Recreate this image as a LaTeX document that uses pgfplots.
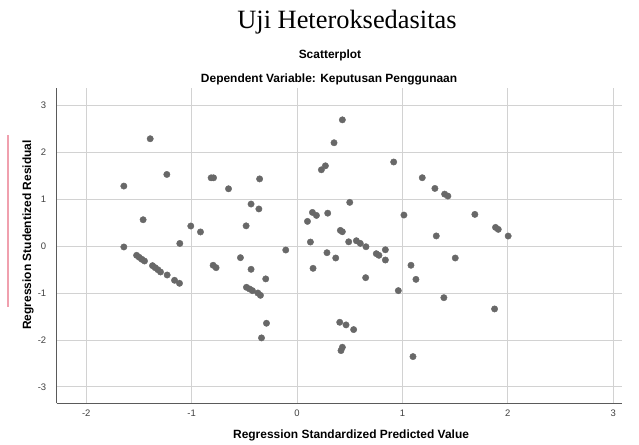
\documentclass[border=0pt]{standalone}
\usepackage{fontspec}
\setmainfont{Liberation Sans}
\newfontfamily\seriffont{Liberation Serif}
\usepackage{pgfplots}
\pgfplotsset{compat=1.18}
\definecolor{ptc}{HTML}{686868}
\definecolor{gridc}{HTML}{D2D2D2}
\definecolor{axc}{HTML}{5A5A5A}
\definecolor{pinkl}{HTML}{F0A0AE}
\begin{document}
\begin{tikzpicture}
\begin{axis}[
  scale only axis,
  width=565bp, height=315bp,
  xmin=-2.28, xmax=3.08, ymin=-3.35, ymax=3.36,
  axis x line=bottom, axis y line=left,
  axis line style={axc, -, line width=0.8pt},
  xtick={-2,-1,0,1,2,3}, ytick={-3,-2,-1,0,1,2,3},
  grid=major, major grid style={gridc, line width=0.8pt},
  major tick length=0pt,
  tick label style={font=\fontsize{9.5}{11}\selectfont, text=black!75},
  yticklabel style={xshift=-7bp},
  xticklabel style={yshift=-3bp},
  /pgf/number format/assume math mode=true,
  clip=false,
]
\path (axis description cs:-0.10035,-0.12921) rectangle (axis description cs:1.03062,1.28032);
\draw[pinkl, line width=1.2bp] (axis description cs:-0.0862,0.8517) -- (axis description cs:-0.0862,0.3057);
\node[font=\seriffont\fontsize{26.5}{28}\selectfont, anchor=base] at (axis description cs:0.5138,1.1889) {Uji Heteroksedasitas};
\node[font=\fontsize{12}{14}\selectfont\bfseries] at (axis description cs:0.4837,1.1057) {Scatterplot};
\node[font=\fontsize{12}{14}\selectfont\bfseries] at (axis description cs:0.4821,1.0295) {Dependent Variable: Keputusan Penggunaan};
\node[font=\fontsize{12}{14}\selectfont\bfseries] at (axis description cs:0.521,-0.1013) {Regression Standardized Predicted Value};
\node[font=\fontsize{12}{14}\selectfont\bfseries, rotate=90] at (axis description cs:-0.0508,0.5343) {Regression Studentized Residual};
\addplot[only marks, mark=*, mark size=3.2bp, mark options={fill=ptc, draw=ptc}] table {
x y
-1.643 1.277
-1.393 2.285
-1.235 1.525
-0.815 1.453
-0.792 1.453
-0.650 1.22
-0.355 1.43
-1.46 0.56
-0.436 0.894
-0.362 0.79
-1.008 0.426
-0.916 0.30
-0.483 0.43
-1.643 -0.02
-1.112 0.055
0.430 2.688
0.351 2.20
0.231 1.624
0.269 1.709
0.917 1.79
1.188 1.455
1.308 1.227
0.50 0.93
0.146 0.716
0.184 0.652
0.291 0.70
0.099 0.525
0.411 0.333
0.43 0.305
1.014 0.66
1.321 0.215
0.127 0.085
0.49 0.09
0.563 0.113
0.60 0.057
0.654 -0.015
0.838 -0.08
-0.107 -0.085
1.40 1.106
1.431 1.064
1.687 0.674
1.883 0.397
1.909 0.355
2.003 0.213
-1.522 -0.198
-1.497 -0.241
-1.472 -0.283
-1.447 -0.319
-1.371 -0.418
-1.346 -0.461
-1.32 -0.504
-1.295 -0.553
-1.232 -0.617
-1.162 -0.73
-1.115 -0.794
-0.796 -0.41
-0.768 -0.461
-0.537 -0.248
-0.436 -0.496
-0.48 -0.879
-0.45 -0.915
-0.423 -0.95
-0.372 -1.0
-0.347 -1.05
-0.297 -0.70
-0.29 -1.645
-0.337 -1.957
0.152 -0.475
0.284 -0.142
0.367 -0.255
0.651 -0.674
0.752 -0.163
0.777 -0.198
0.838 -0.298
0.405 -1.624
0.465 -1.68
0.537 -1.78
0.43 -2.156
0.417 -2.227
0.961 -0.95
1.081 -0.41
1.128 -0.71
1.10 -2.355
1.501 -0.255
1.393 -1.10
1.874 -1.34
};
\end{axis}
\end{tikzpicture}
\end{document}
